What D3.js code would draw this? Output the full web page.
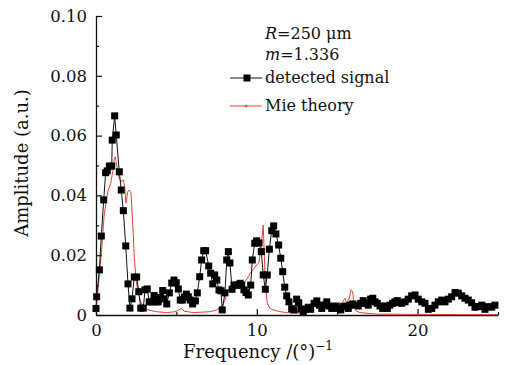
<!DOCTYPE html>
<html>
<head>
<meta charset="utf-8">
<script src="https://cdn.jsdelivr.net/npm/d3@7"></script>
<style>
html,body{margin:0;padding:0;background:#fff;}
svg{display:block;}
text{font-family:"DejaVu Serif",serif;fill:#111;}
</style>
</head>
<body>
<svg id="chart" width="511" height="365"></svg>
<script>
// ---- data ----
const sigFreq = [0.00,0.04,0.21,0.33,0.48,0.60,0.70,0.83,0.98,1.01,1.16,1.26,1.45,1.57,1.70,1.85,1.99,2.11,2.24,2.38,2.53,2.66,2.78,2.94,3.05,3.19,3.31,3.46,3.61,3.73,3.87,4.02,4.15,4.23,4.40,4.56,4.71,4.85,4.99,5.12,5.24,5.37,5.49,5.62,5.74,5.86,6.01,6.18,6.30,6.45,6.57,6.70,6.82,7.01,7.13,7.26,7.38,7.51,7.65,7.77,7.85,8.02,8.13,8.23,8.33,8.46,8.58,8.71,8.83,8.96,9.06,9.20,9.33,9.47,9.62,9.72,9.87,9.99,10.14,10.28,10.40,10.53,10.65,10.78,10.93,11.05,11.19,11.36,11.49,11.61,11.74,11.86,12.00,12.17,12.31,12.48,12.61,12.75,12.89,13.04,13.20,13.35,13.56,13.73,13.89,14.04,14.18,14.35,14.51,14.66,14.80,14.93,15.07,15.22,15.38,15.55,15.69,15.80,15.96,16.11,16.31,16.46,16.62,16.79,16.93,17.08,17.21,17.35,17.49,17.66,17.83,17.97,18.12,18.28,18.45,18.59,18.74,18.87,19.01,19.22,19.42,19.63,19.84,20.04,20.26,20.46,20.67,20.88,21.08,21.29,21.50,21.70,21.91,22.12,22.33,22.53,22.74,22.95,23.15,23.36,23.57,23.77,23.99,24.19,24.40,24.61,24.81];
const sigAmp = [0.0022,0.0061,0.0151,0.0264,0.0385,0.0476,0.0482,0.0498,0.0498,0.0585,0.0666,0.0602,0.0479,0.0418,0.0349,0.0231,0.0104,0.0023,0.0054,0.0127,0.0127,0.0078,0.0023,0.0023,0.0084,0.0087,0.0044,0.0044,0.0065,0.0044,0.0044,0.0059,0.0082,0.0054,0.0037,0.0074,0.0107,0.0117,0.0108,0.0087,0.0050,0.0050,0.0060,0.0070,0.0061,0.0050,0.0037,0.0047,0.0074,0.0128,0.0184,0.0215,0.0215,0.0164,0.0140,0.0104,0.0134,0.0117,0.0084,0.0081,0.0017,0.0074,0.0184,0.0212,0.0174,0.0086,0.0100,0.0100,0.0100,0.0106,0.0100,0.0084,0.0075,0.0067,0.0100,0.0184,0.0240,0.0248,0.0241,0.0212,0.0134,0.0086,0.0134,0.0220,0.0282,0.0298,0.0271,0.0234,0.0190,0.0145,0.0093,0.0064,0.0044,0.0021,0.0017,0.0053,0.0041,0.0020,0.0011,0.0019,0.0026,0.0019,0.0039,0.0047,0.0033,0.0022,0.0033,0.0044,0.0030,0.0022,0.0028,0.0030,0.0022,0.0017,0.0028,0.0030,0.0022,0.0033,0.0037,0.0033,0.0030,0.0039,0.0048,0.0039,0.0033,0.0053,0.0056,0.0044,0.0039,0.0030,0.0022,0.0030,0.0022,0.0033,0.0039,0.0044,0.0048,0.0042,0.0039,0.0044,0.0053,0.0064,0.0067,0.0053,0.0044,0.0039,0.0019,0.0022,0.0033,0.0044,0.0050,0.0044,0.0053,0.0061,0.0075,0.0073,0.0064,0.0056,0.0050,0.0041,0.0026,0.0028,0.0033,0.0019,0.0028,0.0026,0.0033];

const mieFreq = [0.00,0.14,0.35,0.50,0.67,0.76,0.91,1.04,1.12,1.20,1.29,1.41,1.55,1.70,1.78,1.87,1.97,2.07,2.18,2.28,2.38,2.49,2.63,2.78,2.94,3.15,3.46,3.77,4.40,4.91,5.10,5.33,5.47,6.05,7.09,7.51,7.82,8.02,8.13,8.23,8.44,8.75,9.06,9.27,9.47,9.58,9.76,9.95,10.14,10.28,10.40,10.51,10.57,10.65,10.82,11.03,11.44,11.86,12.69,13.10,13.41,13.62,13.73,13.82,13.97,14.10,14.24,14.55,14.86,15.13,15.28,15.38,15.49,15.59,15.75,15.86,15.96,16.04,16.17,16.42,17.46,19.53,25.00];
const mieAmp = [0.0017,0.0095,0.0217,0.0329,0.0396,0.0418,0.0440,0.0479,0.0518,0.0529,0.0502,0.0463,0.0446,0.0452,0.0429,0.0374,0.0412,0.0418,0.0407,0.0307,0.0195,0.0117,0.0073,0.0044,0.0028,0.0019,0.0014,0.0011,0.0008,0.0011,0.0015,0.0022,0.0013,0.0008,0.0011,0.0017,0.0028,0.0050,0.0073,0.0084,0.0095,0.0100,0.0106,0.0111,0.0128,0.0139,0.0151,0.0164,0.0177,0.0234,0.0301,0.0139,0.0084,0.0039,0.0022,0.0017,0.0011,0.0008,0.0007,0.0013,0.0022,0.0050,0.0059,0.0050,0.0017,0.0033,0.0044,0.0039,0.0033,0.0028,0.0039,0.0048,0.0056,0.0039,0.0056,0.0084,0.0078,0.0039,0.0014,0.0008,0.0003,0.0002,0.0001];

const xMajor = [0, 10, 20];
const xMinor = [5, 15, 25];
const yMajor = [0, 0.02, 0.04, 0.06, 0.08, 0.10];
const yMajorLabels = ["0", "0.02", "0.04", "0.06", "0.08", "0.10"];
const yMinor = [0.01, 0.03, 0.05, 0.07, 0.09];
const seriesNames = ["detected signal", "Mie theory"];

// ---- layout ----
const svg = d3.select("#chart");
const pLeft = 96, pRight = 498, pTop = 16, pBottom = 315;
const x = d3.scaleLinear().domain([0, 25]).range([pLeft, pRight]);
const y = d3.scaleLinear().domain([0, 0.10]).range([pBottom, pTop]);

// axes
svg.append("g").attr("transform", `translate(0,${pBottom})`)
  .call(d3.axisBottom(x).tickValues(xMajor).tickSizeInner(-6).tickSizeOuter(0).tickPadding(9).tickFormat(d3.format("d")));
svg.append("g").attr("transform", `translate(0,${pBottom})`)
  .call(d3.axisBottom(x).tickValues(xMinor).tickSizeInner(-3).tickSizeOuter(0).tickFormat(""))
  .select(".domain").remove();
svg.append("g").attr("transform", `translate(${pLeft},0)`)
  .call(d3.axisLeft(y).tickValues(yMajor).tickSizeInner(-6).tickSizeOuter(0).tickPadding(9)
    .tickFormat((d, i) => yMajorLabels[i]));
svg.append("g").attr("transform", `translate(${pLeft},0)`)
  .call(d3.axisLeft(y).tickValues(yMinor).tickSizeInner(-3).tickSizeOuter(0).tickFormat(""))
  .select(".domain").remove();

svg.selectAll(".domain").attr("stroke", "#111").attr("stroke-width", 1.3);
svg.selectAll(".tick line").attr("stroke", "#111").attr("stroke-width", 1.2);
svg.selectAll(".tick text").style("font-family", "DejaVu Serif, serif").style("font-size", "16.5px").attr("fill", "#111");

// Mie theory line
const mieData = mieFreq.map((f, i) => [f, mieAmp[i]]);
svg.append("path").datum(mieData)
  .attr("fill", "none").attr("stroke", "#e8402e").attr("stroke-width", 1)
  .attr("d", d3.line().x(d => x(d[0])).y(d => y(d[1])));

// detected signal
const sigData = sigFreq.map((f, i) => [f, sigAmp[i]]);
svg.append("path").datum(sigData)
  .attr("fill", "none").attr("stroke", "#111").attr("stroke-width", 1)
  .attr("d", d3.line().x(d => x(d[0])).y(d => y(d[1])));
const ms = 7;
svg.append("g").selectAll("rect").data(sigData).join("rect")
  .attr("x", d => x(d[0]) - ms / 2).attr("y", d => y(d[1]) - ms / 2)
  .attr("width", ms).attr("height", ms).attr("fill", "#000");

// axis titles
svg.append("text").attr("x", 258).attr("y", 358).attr("text-anchor", "middle")
  .style("font-size", "18px")
  .html('Frequency /(°)<tspan dy="-8" font-size="12px">−1</tspan>');
svg.append("text").attr("transform", "translate(28,163) rotate(-90)")
  .attr("text-anchor", "middle").style("font-size", "18px").text("Amplitude (a.u.)");

// legend
const lg = svg.append("g");
lg.append("text").attr("x", 265).attr("y", 39).style("font-size", "16px")
  .html('<tspan font-style="italic">R</tspan>=250 μm');
lg.append("text").attr("x", 265).attr("y", 60).style("font-size", "16px")
  .html('<tspan font-style="italic">m</tspan>=1.336');
lg.append("line").attr("x1", 230).attr("x2", 262).attr("y1", 78).attr("y2", 78)
  .attr("stroke", "#111").attr("stroke-width", 1);
lg.append("rect").attr("x", 247 - 3.5).attr("y", 78 - 3.5).attr("width", 7).attr("height", 7).attr("fill", "#000");
lg.append("text").attr("x", 265).attr("y", 83).style("font-size", "16px").text(seriesNames[0]);
lg.append("line").attr("x1", 230).attr("x2", 262).attr("y1", 106).attr("y2", 106)
  .attr("stroke", "#e8402e").attr("stroke-width", 1);
lg.append("circle").attr("cx", 246).attr("cy", 106).attr("r", 1.3).attr("fill", "#e8402e");
lg.append("text").attr("x", 265).attr("y", 111).style("font-size", "16px").text(seriesNames[1]);
</script>
</body>
</html>
